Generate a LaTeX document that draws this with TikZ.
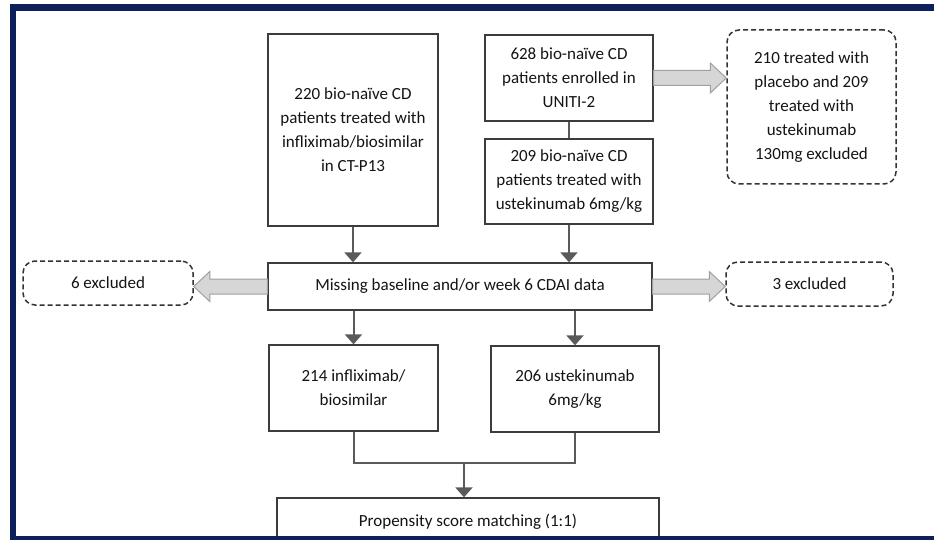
\documentclass[tikz,border=0pt]{standalone}
\usepackage{fontspec}
\setmainfont{Carlito}
\usetikzlibrary{arrows.meta,calc,positioning}
\definecolor{navy}{RGB}{14,32,92}
\definecolor{boxline}{RGB}{60,60,60}
\definecolor{dashline}{RGB}{50,50,50}
\definecolor{flowgray}{RGB}{90,90,90}
\definecolor{fatfill}{RGB}{214,214,214}
\definecolor{fatline}{RGB}{160,160,160}
\definecolor{inkgray}{RGB}{20,20,20}
\tikzset{
  box/.style={draw=boxline, line width=1.3pt, fill=white, align=center,
    inner sep=0pt, text=inkgray, font=\fontsize{17pt}{24pt}\selectfont},
  excl/.style={box, draw=dashline, line width=1.5pt,
    dash pattern=on 5pt off 3pt, rounded corners=12pt},
  link/.style={draw=flowgray, line width=2pt},
  flow/.style={link, -{Triangle[length=10pt, width=17pt]}},
  fat/.style={draw=fatline, fill=fatfill, line width=1pt},
}
% wide grey arrow, horizontal, at the height of the first point
\newcommand{\fatarrow}[2]{%
  \draw[fat] let \p1=(#1), \p2=(#2), \n1={(\x2>\x1)*2-1} in
    (\x1,\y1+7.5pt) -- (\x2-\n1*16pt,\y1+7.5pt) -- (\x2-\n1*16pt,\y1+15pt)
    -- (\x2,\y1) -- (\x2-\n1*16pt,\y1-15pt) -- (\x2-\n1*16pt,\y1-7.5pt)
    -- (\x1,\y1-7.5pt) -- cycle;}

\begin{document}
\begin{tikzpicture}[x=1pt, y=1pt]
  \useasboundingbox (0,0) rectangle (934,-540);

  % Source cohorts
  \node[box, minimum width=170pt, minimum height=192pt] (ctp) at (353,-130)
    {220 bio-naïve CD\\patients treated with\\infliximab/biosimilar\\in CT-P13};
  \node[box, minimum width=168pt, minimum height=86pt] (uniti) at (569,-78)
    {628 bio-naïve CD\\patients enrolled in\\UNITI-2};
  \node[box, minimum width=168pt, minimum height=85pt] (ust) at (569,-181.5)
    {209 bio-naïve CD\\patients treated with\\ustekinumab 6mg/kg};
  \node[excl, minimum width=169pt, minimum height=154pt] (placebo) at (811.5,-107)
    {210 treated with\\placebo and 209\\treated with\\ustekinumab\\130mg excluded};

  % Missing data step
  \node[box, minimum width=384pt, minimum height=47pt] (missing) at (460,-286.5)
    {Missing baseline and/or week 6 CDAI data};
  \node[excl, minimum width=170pt, minimum height=44pt] (exclL) at (108,-283) {6 excluded};
  \node[excl, minimum width=167pt, minimum height=44pt] (exclR) at (809.5,-284) {3 excluded};

  % Analysed groups
  \node[box, minimum width=169pt, minimum height=86pt] (ifx) at (353.5,-388)
    {214 infliximab/\\biosimilar};
  \node[box, minimum width=168pt, minimum height=86pt] (ust6) at (575,-389)
    {206 ustekinumab\\6mg/kg};
  \node[box, minimum width=382pt, minimum height=48pt] (psm) at (468,-522)
    {Propensity score matching (1:1)};

  % Connectors
  \draw[link] (uniti) -- (ust);
  \draw[flow] (ctp.south) -- (ctp.south |- missing.north);
  \draw[flow] (ust.south) -- (ust.south |- missing.north);
  \draw[flow] (ifx.north |- missing.south) -- (ifx.north);
  \draw[flow] (ust6.north |- missing.south) -- (ust6.north);
  \coordinate (merge) at (464,-463);
  \draw[link] (ifx.south) |- (merge) -| (ust6.south);
  \draw[flow] (merge) -- (merge |- psm.north);

  % Exclusions
  \fatarrow{uniti.east}{placebo.west}
  \fatarrow{missing.west}{exclL.east}
  \fatarrow{missing.east}{exclR.west}

  % Frame
  \fill[navy] (10,-4) rectangle (934,-11);
  \fill[navy] (10,-4) rectangle (16,-540);
  \fill[navy] (10,-536) rectangle (934,-540);
\end{tikzpicture}
\end{document}
